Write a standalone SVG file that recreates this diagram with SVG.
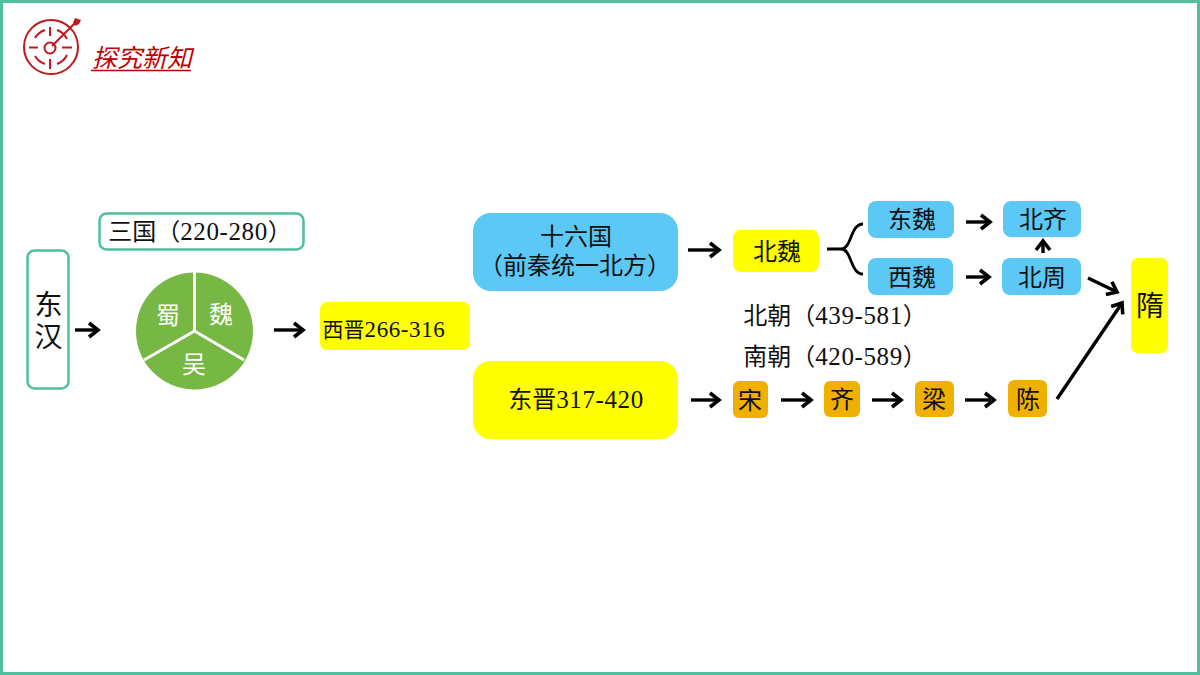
<svg xmlns="http://www.w3.org/2000/svg" width="1200" height="675" viewBox="0 0 1200 675">
<style>
text{font-family:"Liberation Serif","Noto Sans CJK SC",serif;font-size:24px;fill:#111;text-anchor:middle}
.n{font-size:25px;letter-spacing:.6px}
.t{stroke:#50bf9e;stroke-width:2.5;fill:#fff}
.y{fill:#ffff00}.b{fill:#5bc8f5}.o{fill:#f0b000}
.a{fill:none;stroke:#000;stroke-width:3.4;marker-end:url(#ah)}
.ic{fill:none;stroke:#c0181c;stroke-width:2}
.w{fill:#fff}
</style>
<defs><marker id="ah" markerUnits="userSpaceOnUse" markerWidth="20" markerHeight="20" refX="13" refY="10" orient="auto"><path d="M4 3L13 10L4 17" fill="none" stroke="#000" stroke-width="3.6"/></marker></defs>
<rect width="1200" height="675" fill="#fff"/>
<rect x="1.500" y="1.500" width="1197" height="672" fill="none" stroke="#50bf9e" stroke-width="3"/>
<g id="header">
<circle class="ic" cx="51" cy="47" r="27"/>
<path class="ic" d="M35 38A18 18 0 0 1 45 30M57 30A18 18 0 0 1 67 39M67 55A18 18 0 0 1 57 64M45 64A18 18 0 0 1 35 56"/>
<circle class="ic" cx="50" cy="48" r="5.500"/>
<path class="ic" d="M50 27V36M50 59V69M29 47.500H38M62 47.500H72M52 46L76 22"/>
<path d="M73 23L75 18L81 20L79 24L75 26Z" fill="#c0181c"/>
<text x="142" y="67" style="font-size:25px;font-style:italic;fill:#c00000">探究新知</text>
<path d="M91 70.500H191" stroke="#c00000" stroke-width="1.500"/>
</g>
<g id="node-donghan"><rect class="t" x="27.500" y="250.500" width="41" height="138" rx="7"/><text x="48.500" y="315" style="font-size:28px">东</text><text x="48.500" y="347" style="font-size:28px">汉</text></g>
<g id="node-sanguo"><rect class="t" x="99.500" y="213.500" width="204" height="36" rx="7"/><text x="200" y="240">三国（<tspan class="n">220-280</tspan>）</text></g>
<g id="node-pie">
<circle cx="194.500" cy="331" r="58.500" fill="#76b843"/>
<path d="M194.500 272V331M194.500 331L244 360M194.500 331L144 360" stroke="#fff" stroke-width="3" fill="none"/>
<text class="w" x="168" y="324" style="fill:#fff">蜀</text><text x="221" y="323" style="fill:#fff">魏</text><text x="194" y="373" style="fill:#fff">吴</text>
</g>
<g id="node-xijin"><rect class="y" x="320" y="302" width="150" height="48" rx="7"/><text x="384" y="337" style="font-size:21px">西晋<tspan style="font-size:23px;letter-spacing:.6px">266-316</tspan></text></g>
<g id="node-shiliuguo"><rect class="b" x="473" y="213" width="205" height="78" rx="18"/><text x="576" y="245">十六国</text><text x="575" y="274">（前秦统一北方）</text></g>
<g id="node-dongjin"><rect class="y" x="473" y="361" width="205" height="78" rx="18"/><text x="576" y="408">东晋<tspan class="n">317-420</tspan></text></g>
<g id="node-beiwei"><rect class="y" x="733" y="230" width="86" height="42" rx="8"/><text x="777" y="260">北魏</text></g>
<g id="node-dongwei"><rect class="b" x="868" y="201" width="86" height="37" rx="8"/><text x="912" y="228">东魏</text></g>
<g id="node-xiwei"><rect class="b" x="868" y="258" width="85" height="37" rx="8"/><text x="912" y="286">西魏</text></g>
<g id="node-beiqi"><rect class="b" x="1003" y="201" width="78" height="36" rx="8"/><text x="1043" y="228">北齐</text></g>
<g id="node-beizhou"><rect class="b" x="1002" y="258" width="79" height="37" rx="8"/><text x="1042" y="286">北周</text></g>
<g id="node-sui"><rect class="y" x="1131" y="258" width="37" height="95" rx="7"/><text x="1150" y="316" style="font-size:28px">隋</text></g>
<g id="label-beichao"><text x="835" y="324">北朝（<tspan class="n">439-581</tspan>）</text></g>
<g id="label-nanchao"><text x="835" y="365">南朝（<tspan class="n">420-589</tspan>）</text></g>
<g id="node-song"><rect class="o" x="733" y="381" width="35" height="37" rx="6"/><text x="750" y="409">宋</text></g>
<g id="node-qi"><rect class="o" x="824" y="381" width="36" height="36" rx="6"/><text x="842" y="408">齐</text></g>
<g id="node-liang"><rect class="o" x="915" y="381" width="39" height="36" rx="6"/><text x="934" y="408">梁</text></g>
<g id="node-chen"><rect class="o" x="1008" y="380" width="39" height="37" rx="6"/><text x="1028" y="408">陈</text></g>
<g id="connectors">
<path class="a" d="M75 330H98"/>
<path class="a" d="M274 330H303"/>
<path class="a" d="M688 250H719"/>
<path d="M827 249H841C852 249 850 224 863 224M841 249C852 249 850 274 863 274" fill="none" stroke="#000" stroke-width="2.800"/>
<path class="a" d="M966 222H990"/>
<path class="a" d="M966 277H989"/>
<path class="a" d="M1043 253V241"/>
<path class="a" d="M1088 278L1117 292"/>
<path class="a" d="M1057 399L1122 303"/>
<path class="a" d="M691 400H719"/>
<path class="a" d="M781 400H811"/>
<path class="a" d="M872 400H901"/>
<path class="a" d="M965 400H994"/>
</g>
</svg>
